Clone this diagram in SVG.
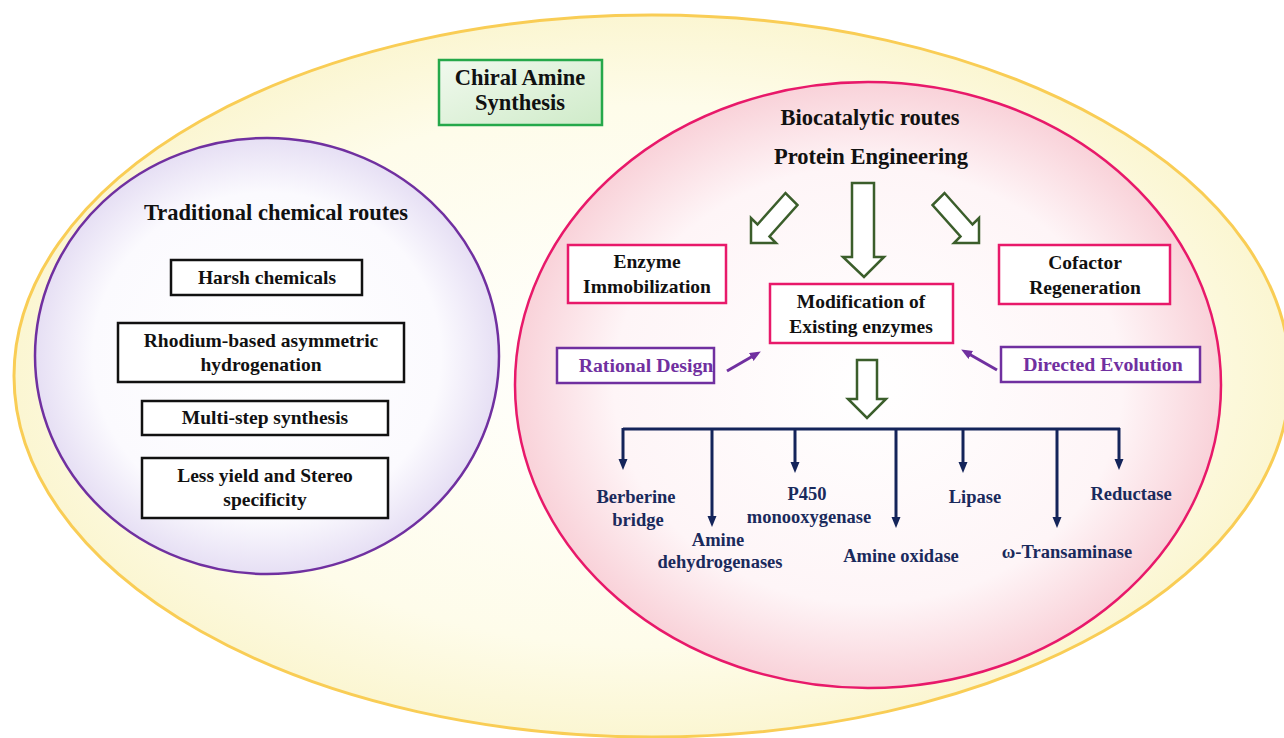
<svg xmlns="http://www.w3.org/2000/svg" width="1284" height="738" viewBox="0 0 1284 738">
<defs>
<radialGradient id="gOuter" cx="50%" cy="50%" r="50%">
<stop offset="0" stop-color="#FFFFFF"/>
<stop offset="0.75" stop-color="#FEFCEA"/>
<stop offset="1" stop-color="#FBF6D2"/>
</radialGradient>
<radialGradient id="gLeft" cx="50%" cy="50%" r="50%">
<stop offset="0" stop-color="#FFFFFF"/>
<stop offset="0.75" stop-color="#FBFAFE"/>
<stop offset="1" stop-color="#E6DFF4"/>
</radialGradient>
<radialGradient id="gRight" cx="50%" cy="50%" r="50%">
<stop offset="0" stop-color="#FFFFFF"/>
<stop offset="0.72" stop-color="#FEF5F7"/>
<stop offset="1" stop-color="#F9D2D9"/>
</radialGradient>
<linearGradient id="gGreen" x1="0" y1="0" x2="1" y2="1">
<stop offset="0" stop-color="#F1F9EE"/>
<stop offset="1" stop-color="#CFEBC9"/>
</linearGradient>
<marker id="navyHead" markerUnits="userSpaceOnUse" markerWidth="14" markerHeight="12" refX="2" refY="4.5" orient="auto">
<path d="M0,0 L11,4.5 L0,9 z" fill="#14245A"/>
</marker>
<marker id="purpleHead" markerUnits="userSpaceOnUse" markerWidth="14" markerHeight="12" refX="2" refY="4.5" orient="auto">
<path d="M0,0 L11,4.5 L0,9 z" fill="#7030A0"/>
</marker>
</defs>
<style>
text { font-family: "Liberation Serif", "Times New Roman", serif; font-weight: bold; text-anchor: middle; }
.title { font-size: 22.5px; fill: #111111; }
.box { font-size: 19.5px; fill: #111111; }
.enz { font-size: 18.5px; fill: #1A2A5C; }
.pur { font-size: 19.8px; fill: #7030A0; }
.blackbox { fill: #FFFFFF; stroke: #111111; stroke-width: 2.5; }
.pinkbox { fill: #FFFFFF; stroke: #E8196A; stroke-width: 2.5; }
.purbox { fill: #FFFFFF; stroke: #7030A0; stroke-width: 2.5; }
.hollow { fill: #FFFFFF; stroke: #3B5E2B; stroke-width: 2.5; stroke-linejoin: miter; }
.navy { stroke: #14245A; stroke-width: 3; fill: none; }
.purline { stroke: #7030A0; stroke-width: 3; fill: none; }
</style>

<g id="outer">
<ellipse cx="652" cy="376" rx="638" ry="361" fill="url(#gOuter)" stroke="#F9CD55" stroke-width="3"/>
</g>

<g id="title-node">
<rect x="439" y="60" width="163" height="65" fill="url(#gGreen)" stroke="#25A84A" stroke-width="2.5"/>
<text class="title" x="520" y="85">Chiral Amine</text>
<text class="title" x="520" y="110">Synthesis</text>
</g>

<g id="traditional">
<ellipse cx="267" cy="356" rx="232" ry="218" fill="url(#gLeft)" stroke="#7030A0" stroke-width="2.5"/>
<text class="title" x="276" y="220">Traditional chemical routes</text>
</g>

<g id="harsh">
<rect class="blackbox" x="171" y="260" width="191" height="35"/>
<text class="box" x="267" y="284">Harsh chemicals</text>
</g>
<g id="rhodium">
<rect class="blackbox" x="118" y="323" width="286" height="59"/>
<text class="box" x="261" y="347">Rhodium-based asymmetric</text>
<text class="box" x="261" y="371">hydrogenation</text>
</g>
<g id="multistep">
<rect class="blackbox" x="142" y="401" width="246" height="34"/>
<text class="box" x="265" y="424">Multi-step synthesis</text>
</g>
<g id="lessyield">
<rect class="blackbox" x="142" y="458" width="246" height="60"/>
<text class="box" x="265" y="482">Less yield and Stereo</text>
<text class="box" x="265" y="506">specificity</text>
</g>

<g id="biocatalytic">
<ellipse cx="868" cy="385" rx="353" ry="303" fill="url(#gRight)" stroke="#E8196A" stroke-width="2.5"/>
<text class="title" x="870" y="125">Biocatalytic routes</text>
<text class="title" x="871" y="164">Protein Engineering</text>
</g>

<g id="immobilization">
<rect class="pinkbox" x="568" y="245" width="158" height="58"/>
<text class="box" x="647" y="268">Enzyme</text>
<text class="box" x="647" y="293">Immobilization</text>
</g>
<g id="modification">
<rect class="pinkbox" x="770" y="284" width="183" height="59"/>
<text class="box" x="861" y="308">Modification of</text>
<text class="box" x="861" y="333">Existing enzymes</text>
</g>
<g id="cofactor">
<rect class="pinkbox" x="999" y="245" width="171" height="59"/>
<text class="box" x="1085" y="269">Cofactor</text>
<text class="box" x="1085" y="294">Regeneration</text>
</g>
<g id="rational">
<rect class="purbox" x="557" y="348" width="157" height="35"/>
<text class="pur" x="646" y="372">Rational Design</text>
</g>
<g id="directed">
<rect class="purbox" x="1001" y="347" width="199" height="35"/>
<text class="pur" x="1103" y="371">Directed Evolution</text>
</g>

<g id="berberine"><text class="enz" x="636" y="503">Berberine</text><text class="enz" x="638" y="526">bridge</text></g>
<g id="amine-dh"><text class="enz" x="718" y="546">Amine</text><text class="enz" x="720" y="568">dehydrogenases</text></g>
<g id="p450"><text class="enz" x="807" y="500">P450</text><text class="enz" x="809" y="523">monooxygenase</text></g>
<g id="amine-ox"><text class="enz" x="901" y="562">Amine oxidase</text></g>
<g id="lipase"><text class="enz" x="975" y="503">Lipase</text></g>
<g id="transaminase"><text class="enz" x="1067" y="558">ω-Transaminase</text></g>
<g id="reductase"><text class="enz" x="1131" y="500">Reductase</text></g>

<g id="connectors">
<polygon class="hollow" points="852,183 874,183 874,257 884,257 864,277 843,257 852,257"/>
<polygon class="hollow" points="751,243 751,218 757.5,224.5 785.5,193 797.5,205 769.5,236.5 776,243"/>
<polygon class="hollow" points="979,243 979,218 972.5,224.5 944.5,193 932.5,205 960.5,236.5 954,243"/>
<polygon class="hollow" points="857,360 877,360 877,399 886,399 867,418 848,399 857,399"/>
<line class="purline" x1="727" y1="371" x2="753" y2="356" marker-end="url(#purpleHead)"/>
<line class="purline" x1="997" y1="370" x2="969" y2="354" marker-end="url(#purpleHead)"/>
<path class="navy" d="M623,429 H1120"/>
<line class="navy" x1="623" y1="428" x2="623" y2="461" marker-end="url(#navyHead)"/>
<line class="navy" x1="712" y1="428" x2="712" y2="518" marker-end="url(#navyHead)"/>
<line class="navy" x1="795" y1="428" x2="795" y2="464" marker-end="url(#navyHead)"/>
<line class="navy" x1="896" y1="428" x2="896" y2="519" marker-end="url(#navyHead)"/>
<line class="navy" x1="963" y1="428" x2="963" y2="464" marker-end="url(#navyHead)"/>
<line class="navy" x1="1057" y1="428" x2="1057" y2="519" marker-end="url(#navyHead)"/>
<line class="navy" x1="1119" y1="428" x2="1119" y2="461" marker-end="url(#navyHead)"/>
</g>
</svg>
